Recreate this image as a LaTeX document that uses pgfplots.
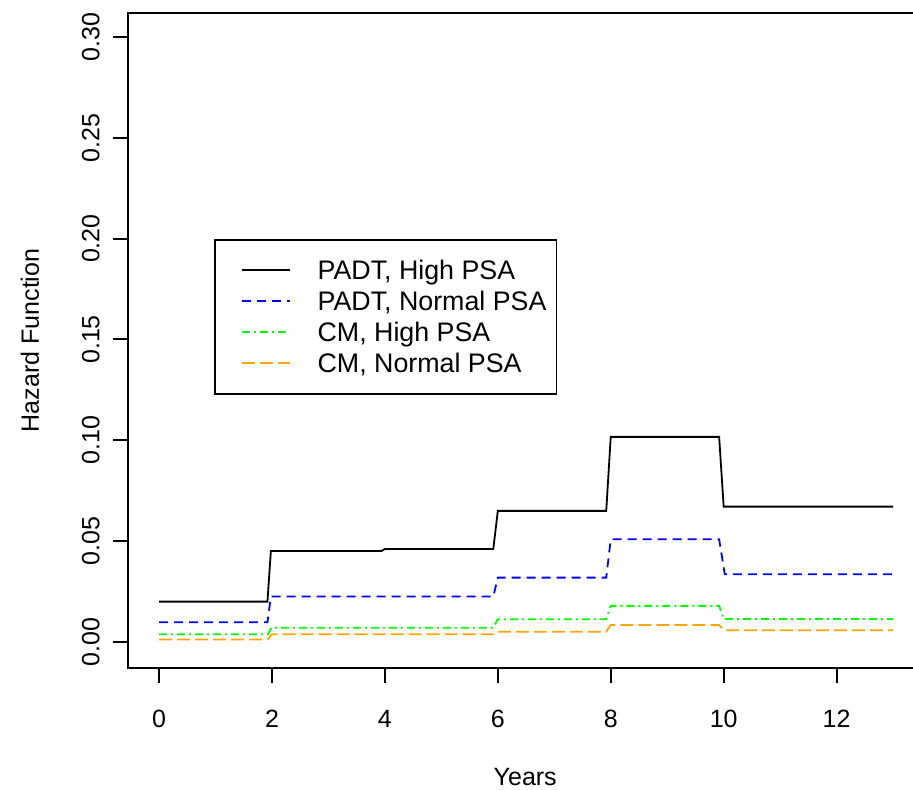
\documentclass[border=0pt]{standalone}
\usepackage{fontspec}
\setmainfont{Liberation Sans}
\usepackage{pgfplots}
\pgfplotsset{compat=1.18}
\definecolor{rblue}{RGB}{0,0,255}
\definecolor{rgreen}{RGB}{0,255,0}
\definecolor{rorange}{RGB}{255,165,0}
\newcommand{\ff}{\fontsize{12.5pt}{15pt}\selectfont}
\newcommand{\lf}{\fontsize{13.4pt}{16pt}\selectfont}
\begin{document}
\begin{tikzpicture}[font=\ff]
\begin{axis}[
  at={(0pt,0pt)}, anchor=south west,
  scale only axis,
  width=397.2pt, height=327.65pt,
  xmin=-0.55, xmax=13.52,
  ymin=-0.0129, ymax=0.3120,
  axis line style={line width=1pt},
  tick style={line width=1pt, black},
  tick align=outside,
  tick pos=left,
  major tick length=7.5pt,
  xtick={0,2,4,6,8,10,12},
  xticklabels={0,2,4,6,8,10,12},
  ytick={0,0.05,0.1,0.15,0.2,0.25,0.3},
  yticklabels={0.00,0.05,0.10,0.15,0.20,0.25,0.30},
  tick label style={font=\ff},
  xticklabel style={anchor=north, inner sep=0pt},
  xticklabel shift=13.5pt,
  yticklabel style={rotate=90, anchor=south, inner sep=0pt},
  yticklabel shift=6.5pt,
  xlabel={Years},
  ylabel={Hazard Function},
  label style={font=\ff},
  xlabel style={at={(axis description cs:0.5,0)}, anchor=center, yshift=-54.5pt, inner sep=0pt},
  ylabel style={at={(axis description cs:0,0.5)}, anchor=center, rotate=0, yshift=49pt, inner sep=0pt},
  legend cell align=left,
  legend image code/.code={\draw[#1] (8pt,0pt) -- (32pt,0pt); \path (0pt,0pt) (45.5pt,0pt);},
  legend style={at={(axis description cs:0.1083,0.6547)}, anchor=north west,
    draw=black, line width=0.8pt, font=\lf,
    inner xsep=5pt, inner ysep=9.25pt, row sep=3.5pt,
    nodes={inner sep=0pt, text height=10.5pt, text depth=1.5pt}},
]
\addplot[black, line width=0.9pt] coordinates {
(0,0.0200) (1.92,0.0200) (1.98,0.0451) (3.94,0.0451) (4.0,0.0461) (5.92,0.0461)
(6.0,0.0650) (7.92,0.0650) (8.0,0.1017) (9.92,0.1017) (10.0,0.0671) (13,0.0671)};
\addlegendentry{PADT, High PSA}
\addplot[rblue, line width=0.9pt, dash pattern=on 4.5pt off 3pt] coordinates {
(0,0.0098) (1.92,0.0098) (1.98,0.0225) (5.92,0.0225) (6.0,0.0319) (7.92,0.0319)
(8.0,0.0509) (9.92,0.0509) (10.02,0.0336) (13,0.0336)};
\addlegendentry{PADT, Normal PSA}
\addplot[rgreen, line width=0.9pt, dash pattern=on 4pt off 2pt on 1pt off 2pt] coordinates {
(0,0.0038) (1.93,0.0038) (1.99,0.0071) (5.92,0.0071) (6.0,0.0113) (7.92,0.0113)
(8.0,0.0179) (9.92,0.0179) (10.0,0.0114) (13,0.0114)};
\addlegendentry{CM, High PSA}
\addplot[rorange, line width=0.9pt, dash pattern=on 6.5pt off 2.5pt] coordinates {
(0,0.0012) (1.92,0.0012) (2.0,0.0038) (5.92,0.0038) (6.0,0.0051) (7.92,0.0051)
(8.0,0.0084) (9.92,0.0084) (10.0,0.0058) (13,0.0058)};
\addlegendentry{CM, Normal PSA}
\end{axis}
\pgfresetboundingbox
\path[use as bounding box] (-64pt,-61pt) rectangle (392.5pt,334pt);
\end{tikzpicture}
\end{document}
